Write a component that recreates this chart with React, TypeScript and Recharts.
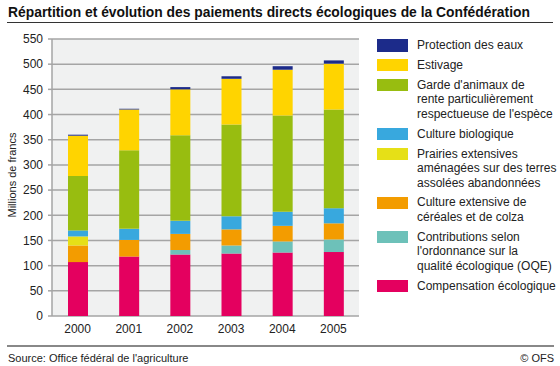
import React, { useLayoutEffect, useRef, useState } from 'react';
import { BarChart, Bar, XAxis, YAxis, CartesianGrid } from 'recharts';

const years = ['2000', '2001', '2002', '2003', '2004', '2005'];
const compensation = [107, 118, 122, 124, 126, 127];
const oqe = [0, 0, 9, 16, 22, 25];
const cultureExtensive = [33, 33, 32, 32, 31, 32];
const prairies = [18, 0, 0, 0, 0, 0];
const bio = [12, 22, 26, 26, 28, 30];
const garde = [108, 156, 170, 182, 191, 196];
const estivage = [80, 81, 91, 91, 91, 91];
const protection = [2, 1.5, 4.5, 5, 7, 6.5];
const yTicks = [0, 50, 100, 150, 200, 250, 300, 350, 400, 450, 500, 550];

const series = [
  { key: 'compensation', values: compensation, color: '#E4005F', label: ['Compensation écologique'] },
  { key: 'oqe', values: oqe, color: '#6DC1B9', label: ['Contributions selon', "l'ordonnance sur la", 'qualité écologique (OQE)'] },
  { key: 'cultureExtensive', values: cultureExtensive, color: '#F39C00', label: ['Culture extensive de', 'céréales et de colza'] },
  { key: 'prairies', values: prairies, color: '#E6E017', label: ['Prairies extensives', 'aménagées sur des terres', 'assolées abandonnées'] },
  { key: 'bio', values: bio, color: '#38A8DE', label: ['Culture biologique'] },
  { key: 'garde', values: garde, color: '#98BD10', label: ["Garde d'animaux de", 'rente particulièrement', "respectueuse de l'espèce"] },
  { key: 'estivage', values: estivage, color: '#FFD400', label: ['Estivage'] },
  { key: 'protection', values: protection, color: '#1C2B8A', label: ['Protection des eaux'] },
];

const data = years.map((y, i) => {
  const row: Record<string, string | number> = { year: y };
  series.forEach((s) => {
    row[s.key] = s.values[i];
  });
  return row;
});

const FONT = '"Liberation Sans", Arial, sans-serif';
const TITLE = 'Répartition et évolution des paiements directs écologiques de la Confédération';

function Title() {
  const ref = useRef<HTMLSpanElement>(null);
  const [scale, setScale] = useState(0.85);
  useLayoutEffect(() => {
    if (ref.current) {
      const w = ref.current.offsetWidth;
      if (w > 0) setScale(522 / w);
    }
  }, []);
  return (
    <div style={{ position: 'absolute', left: 8, top: 2, width: 530, height: 20, overflow: 'visible' }}>
      <span
        ref={ref}
        style={{
          display: 'inline-block',
          fontWeight: 'bold',
          fontSize: 15.5,
          lineHeight: '19px',
          whiteSpace: 'nowrap',
          color: '#111',
          transform: `scaleX(${scale})`,
          transformOrigin: 'left center',
        }}
      >
        {TITLE}
      </span>
    </div>
  );
}

export default function App() {
  const legendItems = [...series].reverse();
  return (
    <div style={{ position: 'absolute', left: 0, top: 0, width: 560, height: 366, background: '#fff', fontFamily: FONT, color: '#222', overflow: 'hidden' }}>
      <Title />
      <div style={{ position: 'absolute', left: 7, top: 21.5, width: 546, height: 1.5, background: '#333' }} />
      <div style={{ position: 'absolute', left: 7, top: 344.5, width: 547, height: 2, background: '#888' }} />
      <div style={{ position: 'absolute', left: 8, top: 351, fontSize: 11, lineHeight: '14px', whiteSpace: 'nowrap', color: '#222' }}>
        Source: Office fédéral de l'agriculture
      </div>
      <div style={{ position: 'absolute', right: 6, top: 351, fontSize: 11, lineHeight: '14px', whiteSpace: 'nowrap', color: '#222' }}>
        © OFS
      </div>
      <div
        style={{
          position: 'absolute',
          left: 12,
          top: 175,
          transform: 'translate(-50%, -50%) rotate(-90deg)',
          fontSize: 11,
          whiteSpace: 'nowrap',
          color: '#222',
        }}
      >
        Millions de francs
      </div>
      <div style={{ position: 'absolute', left: 0, top: 0 }}>
        <BarChart width={560} height={366} data={data} margin={{ top: 39, right: 201, bottom: 20, left: 0 }} barSize={20}>
          <CartesianGrid vertical={false} stroke="#A5A5A5" strokeWidth={1.5} fill="#F0F1F1" />
          <XAxis
            dataKey="year"
            tickLine={false}
            axisLine={false}
            height={30}
            tickMargin={2}
            tick={{ fill: '#222', fontSize: 12, fontFamily: FONT }}
          />
          <YAxis
            width={52}
            domain={[0, 550]}
            ticks={yTicks}
            interval={0}
            tickSize={4}
            tickMargin={5}
            stroke="#A5A5A5"
            axisLine={{ stroke: '#A5A5A5', strokeWidth: 1.5 }}
            tickLine={{ stroke: '#A5A5A5', strokeWidth: 1.5 }}
            tick={{ fill: '#222', fontSize: 12, fontFamily: FONT }}
          />
          <YAxis
            yAxisId="right"
            orientation="right"
            width={0}
            domain={[0, 550]}
            tick={false}
            tickLine={false}
            axisLine={{ stroke: '#A5A5A5', strokeWidth: 1.5 }}
          />
          {series.map((s) => (
            <Bar key={s.key} dataKey={s.key} stackId="a" fill={s.color} isAnimationActive={false} />
          ))}
        </BarChart>
      </div>
      <div style={{ position: 'absolute', left: 377, top: 38.2, display: 'flex', flexDirection: 'column', gap: 5.2 }}>
        {legendItems.map((s) => (
          <div key={s.key} style={{ display: 'flex', alignItems: 'flex-start' }}>
            <div style={{ width: 31, height: 12.4, marginTop: 1.1, background: s.color, flexShrink: 0 }} />
            <div style={{ marginLeft: 9, fontSize: 12, lineHeight: '14.6px', color: '#222', whiteSpace: 'nowrap' }}>
              {s.label.map((l, i) => (
                <div key={i}>{l}</div>
              ))}
            </div>
          </div>
        ))}
      </div>
    </div>
  );
}
